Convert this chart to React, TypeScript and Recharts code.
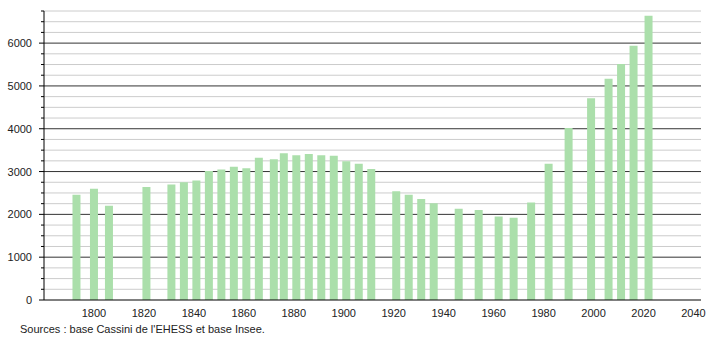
import { BarChart, Bar, XAxis, YAxis, CartesianGrid } from "recharts";

// Census years and population
const years = [
  1793, 1800, 1806, 1821, 1831, 1836, 1841, 1846, 1851, 1856, 1861, 1866, 1872,
  1876, 1881, 1886, 1891, 1896, 1901, 1906, 1911, 1921, 1926, 1931, 1936, 1946,
  1954, 1962, 1968, 1975, 1982, 1990, 1999, 2006, 2011, 2016, 2022,
];
const population = [
  2460, 2600, 2200, 2640, 2700, 2750, 2790, 3015, 3050, 3110, 3080, 3320, 3290,
  3430, 3380, 3410, 3380, 3370, 3240, 3180, 3060, 2540, 2460, 2360, 2260, 2130,
  2100, 1950, 1920, 2280, 3180, 4020, 4710, 5170, 5510, 5940, 6640,
];

const xTicks = [1800, 1820, 1840, 1860, 1880, 1900, 1920, 1940, 1960, 1980, 2000, 2020, 2040];
const yTicks = [
  0, 250, 500, 750, 1000, 1250, 1500, 1750, 2000, 2250, 2500, 2750, 3000, 3250,
  3500, 3750, 4000, 4250, 4500, 4750, 5000, 5250, 5500, 5750, 6000, 6250, 6500, 6750,
];
const majorGrid = [1000, 2000, 3000, 4000, 5000, 6000];
const minorGrid = [
  250, 500, 750, 1250, 1500, 1750, 2250, 2500, 2750, 3250, 3500, 3750, 4250,
  4500, 4750, 5250, 5500, 5750, 6250, 6500, 6750,
];

const data = years.map((year, i) => ({ year, pop: population[i] }));

const FONT = "'Liberation Sans', Arial, sans-serif";

function YTick({ x, y, payload }: { x: number; y: number; payload: { value: number } }) {
  const major = payload.value % 1000 === 0;
  return (
    <g>
      <line x1={x - (major ? 5 : 3)} x2={x} y1={y} y2={y} stroke="#000" />
      {major && (
        <text x={x - 12} y={y} dy={4} textAnchor="end" fontSize={11} fill="#222" fontFamily={FONT}>
          {payload.value}
        </text>
      )}
    </g>
  );
}

export default function App() {
  return (
    <div style={{ position: "absolute", left: 0, top: 0, width: 710, height: 340, background: "#fff" }}>
      <BarChart
        width={710}
        height={340}
        data={data}
        margin={{ top: 11, right: 9, bottom: 10, left: 0 }}
      >
        <CartesianGrid vertical={false} horizontalValues={minorGrid} stroke="#cccccc" />
        <CartesianGrid vertical={false} horizontalValues={majorGrid} stroke="#333333" />
        <XAxis
          dataKey="year"
          type="number"
          height={30}
          domain={[1780, 2043]}
          ticks={xTicks}
          interval={0}
          allowDataOverflow
          tickLine={false}
          axisLine={{ stroke: "#000" }}
          tickMargin={3}
          tick={{ fontSize: 11, fill: "#222", fontFamily: FONT }}
        />
        <YAxis
          type="number"
          width={44}
          domain={[0, 6750]}
          ticks={yTicks}
          interval={0}
          allowDataOverflow
          tickLine={false}
          tickSize={0}
          tickMargin={0}
          axisLine={{ stroke: "#000" }}
          tick={YTick}
        />
        <Bar dataKey="pop" fill="#abdfab" barSize={8} isAnimationActive={false} />
      </BarChart>
      <div
        style={{
          position: "absolute",
          left: 20,
          top: 323,
          fontSize: 11,
          fontFamily: FONT,
          color: "#222",
        }}
      >
        Sources : base Cassini de l'EHESS et base Insee.
      </div>
    </div>
  );
}
